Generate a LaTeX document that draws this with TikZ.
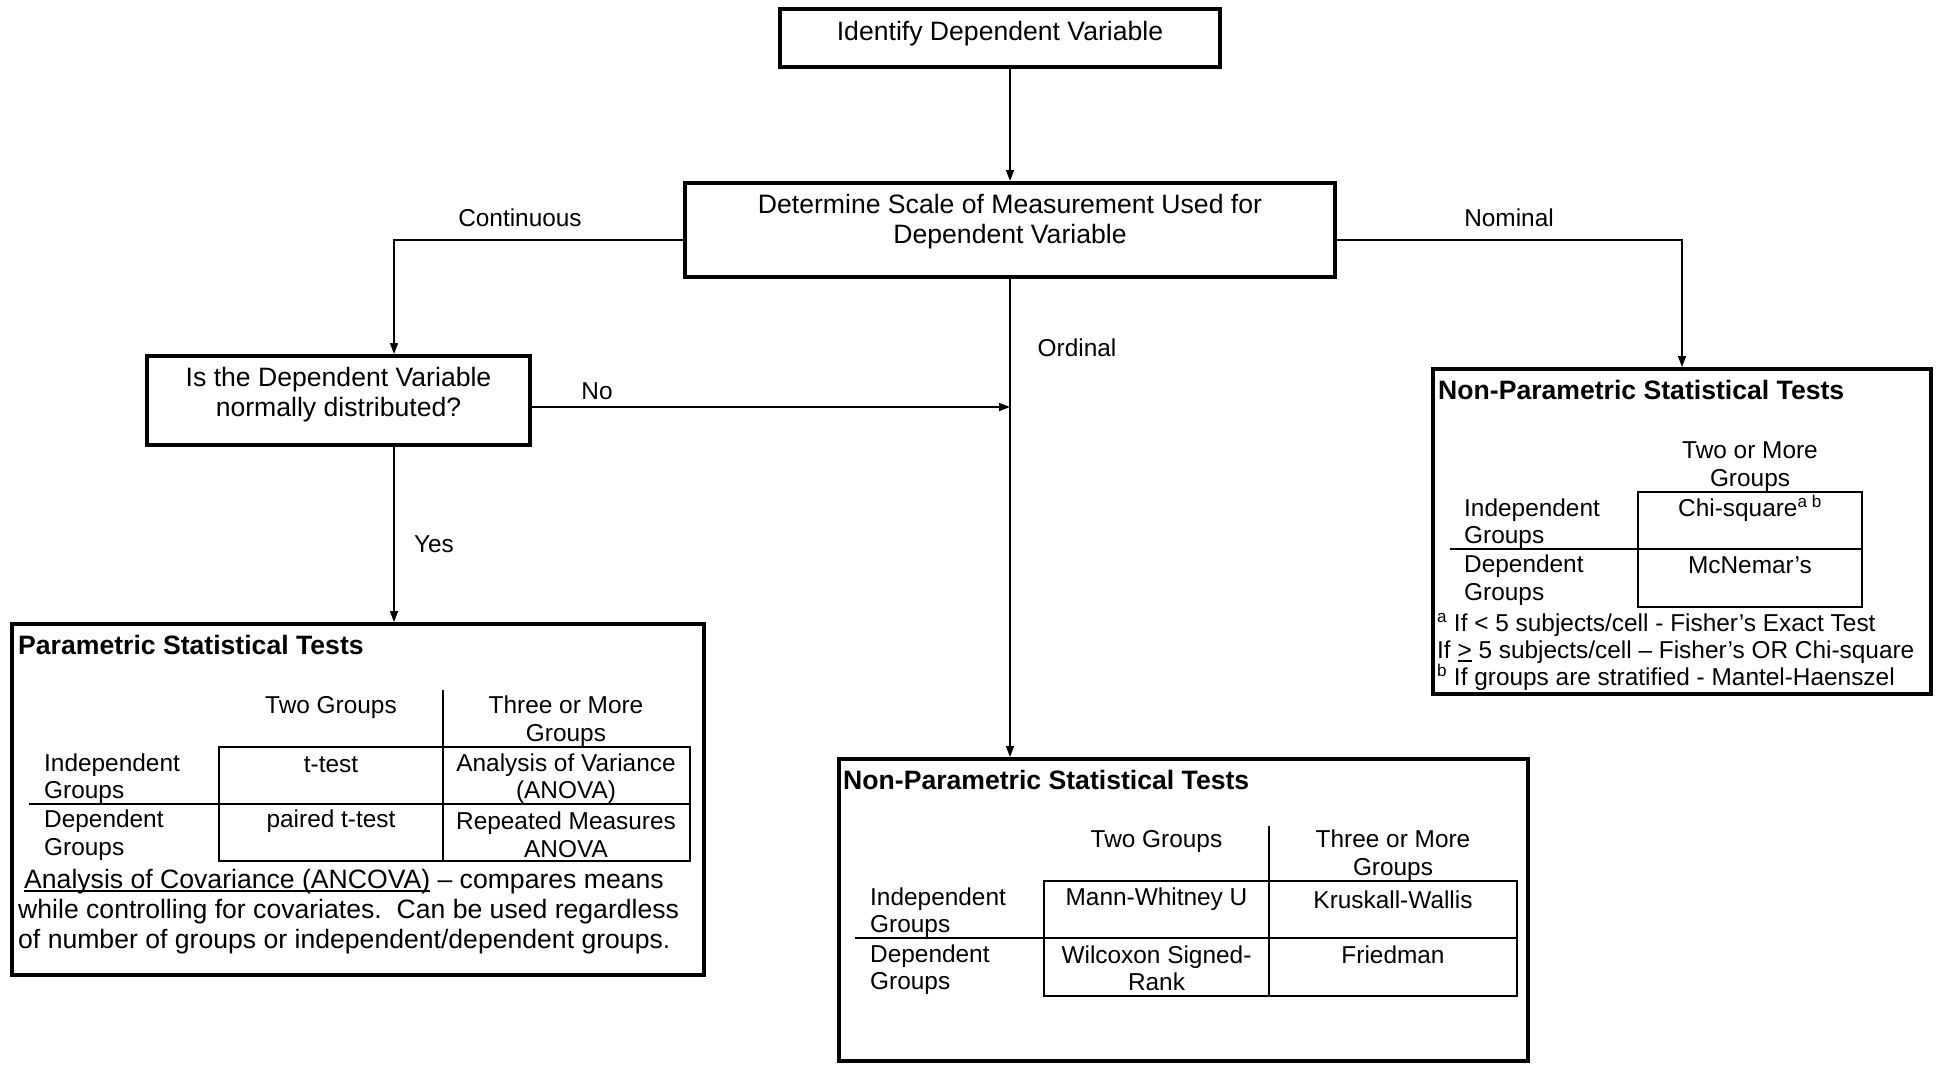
\documentclass[tikz,border=0pt]{standalone}
\usepackage{fontspec}
\setmainfont{Liberation Sans}
\usetikzlibrary{arrows.meta,calc}
\newcommand\myul[1]{\setbox0\hbox{#1}\rlap{\rule[-3.5pt]{\wd0}{1.5pt}}\box0\relax}
\begin{document}
\begin{tikzpicture}[x=1pt,y=-1pt,
  every node/.style={font=\fontsize{26.6}{30.5}\selectfont, inner sep=0pt},
  box/.style={draw, line width=4pt, rectangle},
  conn/.style={line width=1.6pt},
  arr/.style={conn, -{Triangle[length=11pt,width=8pt]}},
  tab/.style={line width=2pt},
  small/.style={font=\fontsize{24.4}{27.5}\selectfont},
  cell/.style={align=center, small},
  rowlab/.style={anchor=west, align=left, small},
  title/.style={anchor=west, font=\fontsize{26.6}{30.5}\selectfont\bfseries},
  lab/.style={small}
]
\useasboundingbox (0,0) rectangle (1939,1065);

% main boxes
\node[box, minimum width=440pt, minimum height=58pt] (b1) at (1000,38) {};
\node[box, minimum width=650pt, minimum height=94pt] (b2) at (1010,230) {};
\node[box, minimum width=383pt, minimum height=89pt] (b3) at (338.5,400.5) {};
\node[box, minimum width=692pt, minimum height=351pt] (b4) at (358,799.5) {};
\node[box, minimum width=498pt, minimum height=325pt] (b5) at (1682,531.5) {};
\node[box, minimum width=689pt, minimum height=302pt] (b6) at (1183.5,910) {};

% box texts
\node (t1) at (1000,33.5) {Identify Dependent Variable};
\node[align=center] (t2) at (1010,221.5) {Determine Scale of Measurement Used for\\Dependent Variable};
\node[align=center] (t3) at (338.5,394.5) {Is the Dependent Variable\\normally distributed?};

% connectors
\coordinate (cont) at (394,240);
\coordinate (noy) at (0,407);
\coordinate (nom) at (b5.north |- cont);
\draw[arr] (b2.north |- b1.south) -- (b2.north);
\draw[arr] (b2.west |- cont) -- (cont) -- (cont |- b3.north);
\draw[arr] (b2.east |- cont) -- (nom) -- (b5.north);
\draw[arr] (b2.south) -- (b2.south |- b6.north);
\draw[arr] (b3.east |- noy) -- (b2.south |- noy);
\draw[arr] (cont |- b3.south) -- (cont |- b4.north);

% connector labels
\node[lab] (lc) at (520,218) {Continuous};
\node[lab] (ln) at (1509,218) {Nominal};
\node[lab] (lo) at (1077,348) {Ordinal};
\node[lab] (lno) at (597,391) {No};
\node[lab] (lyes) at (434,544) {Yes};

% ---------- Parametric box ----------
\node[title] (p0) at (18,645) {Parametric Statistical Tests};
\draw[tab] (219,747) rectangle (690,861);
\draw[tab] (443,690) -- (443,861);
\draw[tab] (29,804) -- (690,804);
\node[cell] (p1) at (331,707.5) {Two Groups};
\node[cell] (p2) at (566,721) {Three or More\\Groups};
\node[rowlab] (p3) at (44,778.5) {Independent\\Groups};
\node[rowlab] (p4) at (44,835) {Dependent\\Groups};
\node[cell] (p5) at (331,764.5) {t-test};
\node[cell] (p6) at (566,778.5) {Analysis of Variance\\(ANOVA)};
\node[cell] (p7) at (331,821) {paired t-test};
\node[cell] (p8) at (566,835) {Repeated Measures\\ANOVA};
\node[anchor=west, align=left, font=\fontsize{26.6}{30.3}\selectfont] (p9) at (18,911.5)
 {\hspace{6pt}\myul{Analysis of Covariance (ANCOVA)} – compares means\\
  while controlling for covariates.\ \ Can be used regardless\\
  of number of groups or independent/dependent groups.};

% ---------- Non-parametric (ordinal) box ----------
\node[title] (o0) at (843,780) {Non-Parametric Statistical Tests};
\draw[tab] (1044,881) rectangle (1517,996);
\draw[tab] (1269,826) -- (1269,996);
\draw[tab] (855,938) -- (1517,938);
\node[cell] (o1) at (1156.5,841.5) {Two Groups};
\node[cell] (o2) at (1393,855) {Three or More\\Groups};
\node[rowlab] (o3) at (870,912.5) {Independent\\Groups};
\node[rowlab] (o4) at (870,969.5) {Dependent\\Groups};
\node[cell] (o5) at (1156.5,899.5) {Mann-Whitney U};
\node[cell] (o6) at (1393,899.5) {Kruskall-Wallis};
\node[cell] (o7) at (1156.5,968.5) {Wilcoxon Signed-\\Rank};
\node[cell] (o8) at (1393,955) {Friedman};

% ---------- Non-parametric (nominal) box ----------
\node[title] (n0) at (1438,390) {Non-Parametric Statistical Tests};
\draw[tab] (1638,492) rectangle (1862,607);
\draw[tab] (1450,549) -- (1862,549);
\node[cell] (n1) at (1750,466.5) {Two or More\\Groups};
\node[rowlab] (n2) at (1464,523.5) {Independent\\Groups};
\node[rowlab] (n3) at (1464,580) {Dependent\\Groups};
\node[cell] (n4) at (1750,508.5) {Chi-square\textsuperscript{a b}};
\node[cell] (n5) at (1750,565) {McNemar’s};
\node[anchor=west, align=left, font=\fontsize{24.4}{27}\selectfont] (n6) at (1437,651.5)
 {\textsuperscript{a} If < 5 subjects/cell - Fisher’s Exact Test\\
  If \myul{>} 5 subjects/cell – Fisher’s OR Chi-square\\
  \textsuperscript{b} If groups are stratified - Mantel-Haenszel};
\end{tikzpicture}
\end{document}
